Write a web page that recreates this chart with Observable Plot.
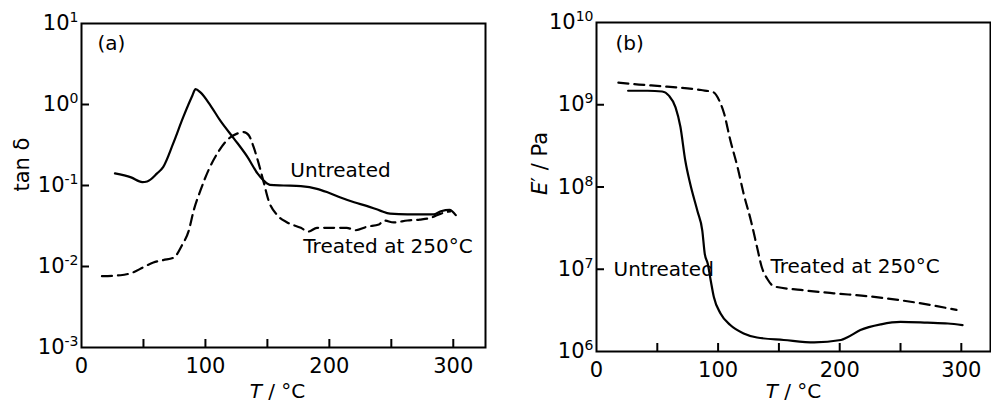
<!DOCTYPE html>
<html><head><meta charset="utf-8">
<script src="https://cdn.jsdelivr.net/npm/d3@7"></script>
<script src="https://cdn.jsdelivr.net/npm/@observablehq/plot@0.6"></script>
<style>
body{margin:0;background:#fff;}
#wrap{position:relative;width:991px;height:412px;overflow:hidden;background:#fff;}
#a,#b{position:absolute;top:0}
#a{left:0}
#b{left:496px}
</style></head><body>
<div id="wrap"><div id="a"></div><div id="b"></div></div>
<script>
// ---------- Panel (a): tan delta vs T ----------
const tanUntreatedT = [27, 40, 49, 53, 61, 66, 74, 82, 89.5, 92, 96, 104, 112, 123, 134, 142, 147, 152, 163, 177, 190, 198, 209, 220, 230, 241, 249, 263, 276, 284, 290, 297, 302];
const tanUntreatedV = [0.141, 0.126, 0.110, 0.112, 0.141, 0.170, 0.331, 0.692, 1.29, 1.55, 1.41, 0.977, 0.631, 0.380, 0.224, 0.141, 0.115, 0.102, 0.100, 0.098, 0.091, 0.083, 0.071, 0.062, 0.056, 0.049, 0.045, 0.044, 0.044, 0.044, 0.048, 0.050, 0.043];
const tanTreatedT = [16.5, 31.5, 42, 50, 58, 66, 74.5, 81, 86.5, 90.5, 96, 102.5, 111, 117.5, 125.5, 131, 135, 139, 143, 147, 151, 158, 166, 177, 183, 190, 201, 214, 221, 230.5, 240, 244, 252, 263, 273, 282, 290, 297.5];
const tanTreatedV = [0.0076, 0.0078, 0.0085, 0.0098, 0.0112, 0.0120, 0.0129, 0.0182, 0.0275, 0.049, 0.087, 0.155, 0.269, 0.363, 0.437, 0.457, 0.417, 0.295, 0.186, 0.110, 0.065, 0.043, 0.035, 0.030, 0.027, 0.030, 0.030, 0.030, 0.028, 0.031, 0.033, 0.037, 0.035, 0.037, 0.038, 0.040, 0.045, 0.048];

// ---------- Panel (b): E' vs T ----------
const eUntreatedT = [26, 42, 54, 59.5, 65, 69, 73, 77, 83, 87, 89, 91.5, 94, 96.5, 102, 110, 121, 132, 154, 179, 201, 206, 217, 234, 250, 272, 289, 301];
const eUntreatedV = [1.48e9, 1.48e9, 1.45e9, 1.29e9, 9.3e8, 5.4e8, 2.1e8, 1.1e8, 5.1e7, 2.95e7, 1.55e7, 1.17e7, 7.2e6, 4.6e6, 2.9e6, 2.1e6, 1.66e6, 1.48e6, 1.38e6, 1.29e6, 1.38e6, 1.48e6, 1.82e6, 2.14e6, 2.29e6, 2.24e6, 2.19e6, 2.09e6];
const eTreatedT = [18, 31, 58, 86, 96.5, 101, 105, 110, 116, 121, 127, 132, 136, 140.5, 146, 168, 195, 223, 250, 278, 296];
const eTreatedV = [1.86e9, 1.78e9, 1.66e9, 1.51e9, 1.41e9, 1.12e9, 7.76e8, 3.72e8, 1.74e8, 8.3e7, 3.89e7, 1.86e7, 1.05e7, 7.6e6, 6.2e6, 5.6e6, 5.1e6, 4.7e6, 4.2e6, 3.6e6, 3.2e6];

// ---------- ticks ----------
const xLabelTicks = [0, 100, 200, 300];
const xMarkTicks = [50, 100, 150, 200, 250, 300];
const yTicksA = [1e-3, 1e-2, 1e-1, 1e0, 1e1];
const yMarkTicksA = [1e-2, 1e-1, 1e0];
const yTicksB = [1e6, 1e7, 1e8, 1e9, 1e10];
const yMarkTicksB = [1e7, 1e8, 1e9];

// ---------- annotations ----------
const annAText = ["(a)", "Untreated", "Treated at 250°C"];
const annAX = [12.9, 168.5, 179];
const annAY = [5.66, 0.153, 0.0177];
const annBText = ["(b)", "Untreated", "Treated at 250°C"];
const annBX = [15.6, 14, 143];
const annBY = [5.56e9, 1.0e7, 1.07e7];

const zipXY = (xs, ys) => xs.map((x, i) => ({x, y: ys[i]}));
const zipAnn = (ts, xs, ys) => ts.map((t, i) => ({t, x: xs[i], y: ys[i]}));

const NS = "http://www.w3.org/2000/svg";
function fixText(svg) {
  svg.querySelectorAll("text").forEach(t => {
    const s = t.textContent;
    const m = s.match(/^10\^(-?\d+)$/);
    if (m) {
      while (t.firstChild) t.removeChild(t.firstChild);
      t.appendChild(document.createTextNode("10"));
      const ts = document.createElementNS(NS, "tspan");
      ts.setAttribute("dy", "-8");
      ts.setAttribute("font-size", "14");
      ts.textContent = m[1];
      t.appendChild(ts);
    } else if (s === "T / °C" || s === "E′ / Pa") {
      while (t.firstChild) t.removeChild(t.firstChild);
      const it = document.createElementNS(NS, "tspan");
      it.setAttribute("font-style", "italic");
      it.textContent = s[0];
      t.appendChild(it);
      t.appendChild(document.createTextNode(s.slice(1)));
    }
  });
}

const style = {fontFamily: "DejaVu Sans, sans-serif", fontSize: "20px", color: "#000", background: "transparent"};
const fmtPow = d => "10^" + Math.round(Math.log10(d));
const TICK = 8;

function panel({width, marginLeft, marginRight, marginTop, marginBottom, xDomain, yDomain, yTicks, yMarks, series, ann, yLabel, yLabelDx, yLabelDy, xLabelDx, xLabelDy}) {
  const height = 412;
  const frameW = width - marginLeft - marginRight;
  const frameH = height - marginTop - marginBottom;
  return Plot.plot({
    width, height, marginLeft, marginRight, marginTop, marginBottom,
    style,
    x: {domain: xDomain, label: null},
    y: {type: "log", domain: yDomain, label: null},
    marks: [
      Plot.frame({stroke: "#000", strokeWidth: 2}),
      Plot.axisX({ticks: xLabelTicks, tickSize: 0, tickPadding: 11, tickFormat: d => String(d), label: null, fontSize: 21}),
      Plot.axisY({ticks: yTicks, tickSize: 0, tickPadding: 3, tickFormat: fmtPow, label: null, fontSize: 21}),
      // inward tick marks
      Plot.ruleX(xMarkTicks, {x: d => d, insetTop: frameH - TICK, stroke: "#000", strokeWidth: 2}),
      Plot.ruleY(yMarks, {y: d => d, insetRight: frameW - TICK, stroke: "#000", strokeWidth: 2}),
      ...series.map(s => Plot.line(s.data, {x: "x", y: "y", curve: "monotone-x", stroke: "#000", strokeWidth: 2.2, strokeDasharray: s.dash})),
      Plot.text(ann, {x: "x", y: "y", text: "t", textAnchor: "start", fontSize: 20, fill: "#000"}),
      Plot.text([yLabel], {text: d => d, frameAnchor: "left", rotate: -90, dx: yLabelDx, dy: yLabelDy, fontSize: 21, fill: "#000"}),
      Plot.text(["T / °C"], {text: d => d, frameAnchor: "bottom", dx: xLabelDx, dy: xLabelDy, fontSize: 20, fill: "#000"})
    ]
  });
}

const plotA = panel({
  width: 496, marginLeft: 81, marginRight: 11, marginTop: 23, marginBottom: 65,
  xDomain: [0, 326], yDomain: [1e-3, 1e1], yTicks: yTicksA, yMarks: yMarkTicksA,
  series: [
    {data: zipXY(tanUntreatedT, tanUntreatedV), dash: null},
    {data: zipXY(tanTreatedT, tanTreatedV), dash: "10,6"}
  ],
  ann: zipAnn(annAText, annAX, annAY),
  yLabel: "tan δ", yLabelDx: -59, yLabelDy: 6, xLabelDx: -6, xLabelDy: 50
});
fixText(plotA);
document.getElementById("a").appendChild(plotA);

const plotB = panel({
  width: 495, marginLeft: 100, marginRight: 1, marginTop: 22, marginBottom: 61,
  xDomain: [0, 324], yDomain: [1e6, 1e10], yTicks: yTicksB, yMarks: yMarkTicksB,
  series: [
    {data: zipXY(eUntreatedT, eUntreatedV), dash: null},
    {data: zipXY(eTreatedT, eTreatedV), dash: "10,6"}
  ],
  ann: zipAnn(annBText, annBX, annBY),
  yLabel: "E′ / Pa", yLabelDx: -56, yLabelDy: 8, xLabelDx: 0, xLabelDy: 46
});
fixText(plotB);
document.getElementById("b").appendChild(plotB);
</script></body></html>
